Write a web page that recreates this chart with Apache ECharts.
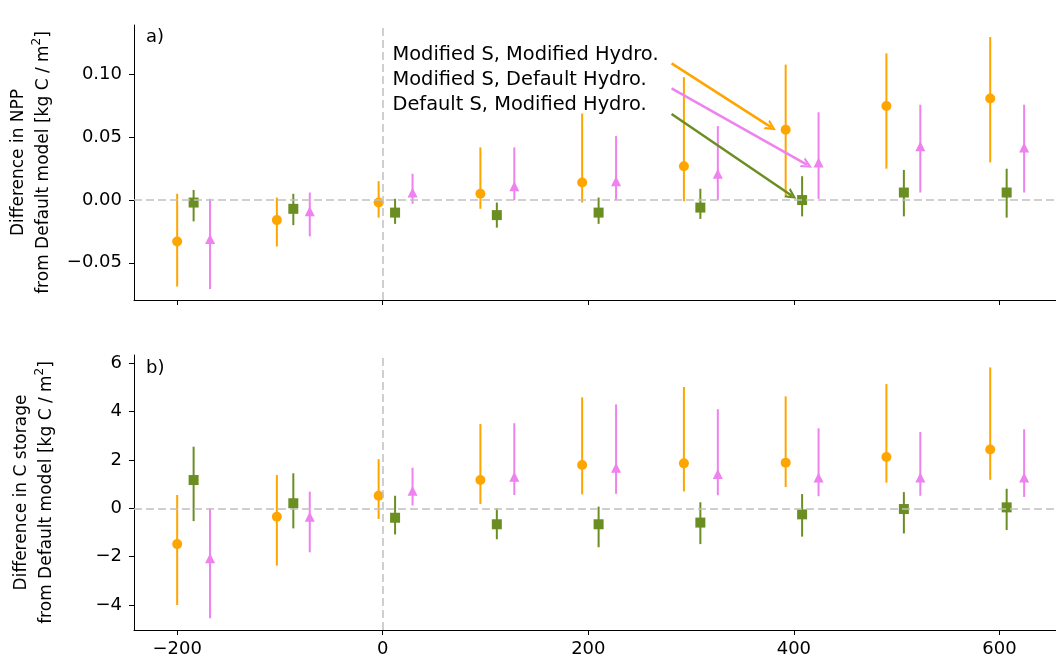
<!DOCTYPE html>
<html>
<head>
<meta charset="utf-8">
<script src="https://cdn.jsdelivr.net/npm/echarts@6/dist/echarts.min.js"></script>
<style>
  html, body { margin: 0; padding: 0; background: #fff; }
  #item { width: 1056px; height: 658px; }
</style>
</head>
<body>
<div id="item"></div>
<script>
	var item = echarts.init(document.getElementById('item'));
	/*-- x 位置 --*/
	let xOrange = [-200, -103, -4, 95, 194, 293, 392, 490, 591];
	let xGreen = [-184, -87, 12, 111, 210, 309, 408, 507, 607];
	let xPink = [-168, -71, 29, 128, 227, 326, 424, 523, 624];
	/*-- 刻度 --*/
	let xTicks = [-200, 0, 200, 400, 600];
	let nppTicks = [-0.05, 0, 0.05, 0.10];
	let stoTicks = [-4, -2, 0, 2, 4, 6];
	/*-- NPP --*/
	let nppOrange = [-0.033, -0.016, -0.002, 0.005, 0.014, 0.027, 0.056, 0.075, 0.081];
	let nppOrangeLo = [-0.069, -0.037, -0.014, -0.007, -0.002, -0.001, 0.003, 0.025, 0.030];
	let nppOrangeHi = [0.005, 0.002, 0.015, 0.042, 0.069, 0.098, 0.108, 0.117, 0.130];
	let nppGreen = [-0.002, -0.007, -0.010, -0.012, -0.010, -0.006, 0.000, 0.006, 0.006];
	let nppGreenLo = [-0.017, -0.020, -0.019, -0.022, -0.019, -0.015, -0.013, -0.013, -0.014];
	let nppGreenHi = [0.008, 0.005, 0.001, -0.002, 0.002, 0.009, 0.019, 0.024, 0.025];
	let nppPink = [-0.031, -0.009, 0.006, 0.011, 0.015, 0.021, 0.030, 0.043, 0.042];
	let nppPinkLo = [-0.071, -0.029, -0.003, 0.000, 0.000, 0.000, 0.001, 0.006, 0.006];
	let nppPinkHi = [0.001, 0.006, 0.021, 0.042, 0.051, 0.059, 0.070, 0.076, 0.076];
	/*-- C storage --*/
	let stoOrange = [-1.48, -0.35, 0.52, 1.17, 1.79, 1.86, 1.89, 2.12, 2.43];
	let stoOrangeLo = [-4.00, -2.37, -0.44, 0.18, 0.58, 0.70, 0.88, 1.06, 1.18];
	let stoOrangeHi = [0.55, 1.38, 2.03, 3.49, 4.59, 5.02, 4.63, 5.14, 5.83];
	let stoGreen = [1.17, 0.21, -0.39, -0.66, -0.66, -0.59, -0.25, -0.03, 0.04];
	let stoGreenLo = [-0.53, -0.83, -1.08, -1.28, -1.61, -1.48, -1.17, -1.04, -0.90];
	let stoGreenHi = [2.55, 1.45, 0.52, 0.00, 0.07, 0.25, 0.59, 0.67, 0.81];
	let stoPink = [-2.07, -0.35, 0.73, 1.31, 1.68, 1.42, 1.27, 1.27, 1.27];
	let stoPinkLo = [-4.55, -1.82, 0.12, 0.55, 0.60, 0.54, 0.50, 0.52, 0.47];
	let stoPinkHi = [0.00, 0.69, 1.68, 3.52, 4.30, 4.10, 3.31, 3.16, 3.27];
	/*-- 图例文字 --*/
	let annText = ['Modified S, Modified Hydro.', 'Modified S, Default Hydro.', 'Default S, Modified Hydro.'];

	const FONT = 'DejaVu Sans';
	const ORANGE = '#ffa500', GREEN = '#6b8e23', PINK = '#ee82ee';
	const minus = s => String(s).replace('-', '\u2212');
	const arrowHead = 'path://M0,100 L50,0 L100,100 L78,100 L50,42 L22,100 Z';

	function pairs(xs, ys) {
		return xs.map((x, i) => [x, ys[i]]);
	}
	function bars(xs, lo, hi) {
		return xs.map((x, i) => [x, lo[i], hi[i]]);
	}
	// 误差线
	function errSeries(idx, data, color) {
		return {
			type: 'custom',
			xAxisIndex: idx,
			yAxisIndex: idx,
			data: data,
			silent: true,
			z: 2,
			renderItem: function(params, api) {
				let p1 = api.coord([api.value(0), api.value(1)]);
				let p2 = api.coord([api.value(0), api.value(2)]);
				return {
					type: 'line',
					shape: { x1: p1[0], y1: p1[1], x2: p2[0], y2: p2[1] },
					style: { stroke: color, lineWidth: 2 }
				};
			}
		};
	}
	function dotSeries(idx, data, color, symbol, size) {
		return {
			type: 'scatter',
			xAxisIndex: idx,
			yAxisIndex: idx,
			data: data,
			symbol: symbol,
			symbolSize: size,
			itemStyle: { color: color, opacity: 1 },
			silent: true,
			z: 3
		};
	}
	function zeroSeries(idx) {
		return {
			type: 'scatter',
			xAxisIndex: idx,
			yAxisIndex: idx,
			data: [],
			z: 1,
			markLine: {
				silent: true,
				symbol: ['none', 'none'],
				label: { show: false },
				lineStyle: { color: '#c0c0c0', width: 1.5, type: [8, 4] },
				data: [{ xAxis: 0 }, { yAxis: 0 }],
				animation: false
			}
		};
	}
	function xAxisOf(idx) {
		return {
			gridIndex: idx,
			type: 'value',
			min: -242,
			max: 655,
			axisLine: { onZero: false, lineStyle: { color: '#000', width: 1 } },
			axisTick: { show: true, length: 5, customValues: xTicks, lineStyle: { color: '#000' } },
			axisLabel: {
				show: idx === 1,
				customValues: xTicks,
				margin: 10,
				fontSize: 18,
				fontFamily: FONT,
				color: '#000',
				formatter: v => minus(v)
			},
			splitLine: { show: false }
		};
	}
	function yAxisOf(idx, min, max, ticks, fmt, name) {
		return {
			gridIndex: idx,
			type: 'value',
			min: min,
			max: max,
			name: name,
			nameLocation: 'middle',
			nameRotate: 90,
			nameGap: 75,
			nameTextStyle: {
				fontSize: 17,
				fontFamily: FONT,
				color: '#000',
				lineHeight: 25,
				align: 'center',
				rich: {
					sup: { fontSize: 12, fontFamily: FONT, color: '#000', verticalAlign: 'top', lineHeight: 12 }
				}
			},
			axisLine: { onZero: false, lineStyle: { color: '#000', width: 1 } },
			axisTick: { show: true, length: 5, customValues: ticks, lineStyle: { color: '#000' } },
			axisLabel: {
				customValues: ticks,
				margin: 12,
				fontSize: 18,
				fontFamily: FONT,
				color: '#000',
				formatter: fmt
			},
			splitLine: { show: false }
		};
	}

	let _item = {
		backgroundColor: '#fff',
		animation: false,
		title: [
			{ text: 'a)', left: 146, top: 28, padding: 0, textStyle: { fontSize: 18, fontWeight: 'normal', fontFamily: FONT, color: '#000' } },
			{ text: 'b)', left: 146, top: 359, padding: 0, textStyle: { fontSize: 18, fontWeight: 'normal', fontFamily: FONT, color: '#000' } }
		],
		grid: [
			{ left: 134, right: 0, top: 25, height: 275, outerBoundsMode: 'none' },
			{ left: 134, right: 0, top: 355, height: 275, outerBoundsMode: 'none' }
		],
		xAxis: [xAxisOf(0), xAxisOf(1)],
		yAxis: [
			yAxisOf(0, -0.0797, 0.1396, nppTicks, v => minus(v.toFixed(2)),
				'Difference in NPP\nfrom Default model [kg C / m{sup|2}]'),
			yAxisOf(1, -5.034, 6.343, stoTicks, v => minus(Math.round(v)),
				'Difference in C storage\nfrom Default model [kg C / m{sup|2}]')
		],
		series: [
			zeroSeries(0),
			zeroSeries(1),
			/* a) NPP */
			errSeries(0, bars(xOrange, nppOrangeLo, nppOrangeHi), ORANGE),
			errSeries(0, bars(xGreen, nppGreenLo, nppGreenHi), GREEN),
			errSeries(0, bars(xPink, nppPinkLo, nppPinkHi), PINK),
			dotSeries(0, pairs(xOrange, nppOrange), ORANGE, 'circle', 10),
			dotSeries(0, pairs(xGreen, nppGreen), GREEN, 'rect', 10),
			dotSeries(0, pairs(xPink, nppPink), PINK, 'triangle', 10),
			/* b) C storage */
			errSeries(1, bars(xOrange, stoOrangeLo, stoOrangeHi), ORANGE),
			errSeries(1, bars(xGreen, stoGreenLo, stoGreenHi), GREEN),
			errSeries(1, bars(xPink, stoPinkLo, stoPinkHi), PINK),
			dotSeries(1, pairs(xOrange, stoOrange), ORANGE, 'circle', 10),
			dotSeries(1, pairs(xGreen, stoGreen), GREEN, 'rect', 10),
			dotSeries(1, pairs(xPink, stoPink), PINK, 'triangle', 10),
			/* 注释文字和箭头 */
			{
				type: 'scatter',
				xAxisIndex: 0,
				yAxisIndex: 0,
				symbolSize: 0,
				silent: true,
				z: 5,
				itemStyle: { opacity: 1 },
				data: [
					[9.5, 0.1156, annText[0]],
					[9.5, 0.0957, annText[1]],
					[9.5, 0.0758, annText[2]]
				],
				label: {
					show: true,
					position: [0, 0],
					align: 'left',
					verticalAlign: 'middle',
					fontSize: 19.4,
					fontFamily: FONT,
					color: '#000',
					opacity: 1,
					formatter: p => p.data[2]
				},
				markLine: {
					silent: true,
					symbol: ['none', arrowHead],
					symbolSize: 11,
					label: { show: false },
					animation: false,
					data: [
						[{ coord: [281, 0.109], lineStyle: { color: ORANGE, width: 2.5, type: 'solid', opacity: 1 } }, { coord: [378, 0.058] }],
						[{ coord: [281, 0.089], lineStyle: { color: PINK, width: 2.5, type: 'solid', opacity: 1 } }, { coord: [413, 0.028] }],
						[{ coord: [281, 0.0686], lineStyle: { color: GREEN, width: 2.5, type: 'solid', opacity: 1 } }, { coord: [398, 0.0035] }]
					]
				}
			}
		]
	};
	item.setOption(_item);
</script>
</body>
</html>
